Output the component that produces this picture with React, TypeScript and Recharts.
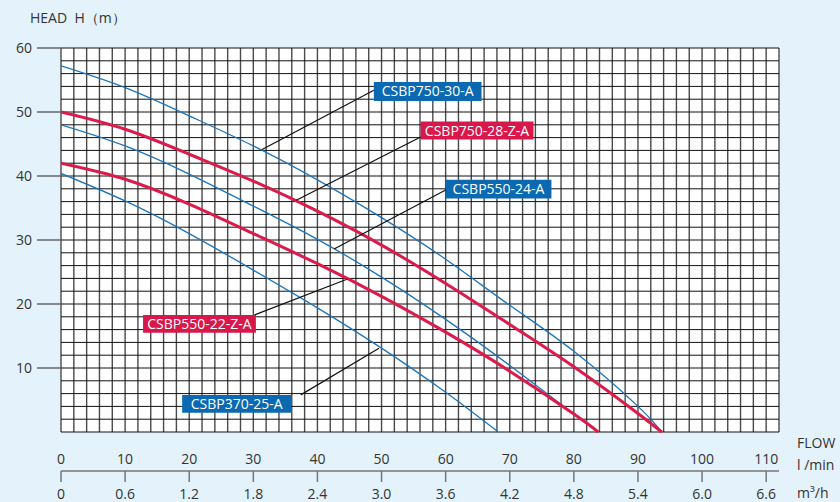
import React from 'react';
import {
  ComposedChart,
  Line,
  XAxis,
  YAxis,
  CartesianGrid,
  ReferenceArea,
  ReferenceLine,
} from 'recharts';

// flow (l/min) and head (m)
const flow750_30 = [0, 10, 20, 30, 40, 50, 60, 70, 80, 90, 93.7];
const head750_30 = [57.2, 53.8, 49.4, 44.7, 39.4, 33.5, 27.0, 19.8, 12.6, 4.0, 0];

const flow750_28 = [0, 10, 20, 30, 40, 50, 60, 70, 80, 90, 93.7];
const head750_28 = [50, 47.3, 43.4, 39.2, 34.5, 29.2, 23.2, 16.8, 10.2, 2.9, 0];

const flow550_24 = [0, 10, 20, 30, 40, 50, 60, 70, 80, 83.8];
const head550_24 = [48, 44.7, 40.3, 35.3, 30.1, 24.2, 17.6, 10.4, 2.8, 0];

const flow550_22 = [0, 10, 20, 30, 40, 50, 60, 70, 80, 83.8];
const head550_22 = [42, 39.5, 35.6, 31.0, 26.3, 21.2, 15.6, 9.5, 2.8, 0];

const flow370_25 = [0, 10, 20, 30, 40, 50, 60, 68.2];
const head370_25 = [40.4, 36.1, 31.0, 25.3, 19.4, 13.1, 6.2, 0];

const headTicks = [10, 20, 30, 40, 50, 60];
const flowTicks = [0, 10, 20, 30, 40, 50, 60, 70, 80, 90, 100, 110];
const m3hLabels = ['0', '0.6', '1.2', '1.8', '2.4', '3.0', '3.6', '4.2', '4.8', '5.4', '6.0', '6.6'];
const gridX = Array.from({ length: 57 }, (_, i) => i * 2);
const gridY = Array.from({ length: 31 }, (_, i) => i * 2);

const BLUE = '#1b75bc';
const RED = '#dc1a4b';
const BOX_BLUE = '#0a69b1';
const BOX_RED = '#d8174b';

const toPoints = (q: number[], h: number[]) => q.map((v, i) => ({ q: v, h: h[i] }));

const series = [
  { name: 'CSBP750-30-A', data: toPoints(flow750_30, head750_30), color: BLUE, width: 1.3 },
  { name: 'CSBP750-28-Z-A', data: toPoints(flow750_28, head750_28), color: RED, width: 3 },
  { name: 'CSBP550-24-A', data: toPoints(flow550_24, head550_24), color: BLUE, width: 1.3 },
  { name: 'CSBP550-22-Z-A', data: toPoints(flow550_22, head550_22), color: RED, width: 3 },
  { name: 'CSBP370-25-A', data: toPoints(flow370_25, head370_25), color: BLUE, width: 1.3 },
];

// callout boxes and leader lines, in chart units
const callouts = [
  { name: 'CSBP750-30-A', fill: BOX_BLUE, box: [48.8, 65.6, 51.7, 54.7], from: [31.3, 44.1], to: [48.8, 53.4] },
  { name: 'CSBP750-28-Z-A', fill: BOX_RED, box: [56.1, 73.7, 45.7, 48.5], from: [36.7, 36.2], to: [56.1, 46.1] },
  { name: 'CSBP550-24-A', fill: BOX_BLUE, box: [60.0, 76.5, 36.5, 39.4], from: [42.6, 28.6], to: [60.0, 37.8] },
  { name: 'CSBP550-22-Z-A', fill: BOX_RED, box: [12.8, 30.4, 15.5, 18.3], from: [44.7, 23.9], to: [30.2, 18.3] },
  { name: 'CSBP370-25-A', fill: BOX_BLUE, box: [18.9, 35.9, 3.0, 5.8], from: [49.6, 13.1], to: [37.4, 5.8] },
];

const FlowTick = (props: any) => {
  const { x, y, payload, index } = props;
  return (
    <g>
      <text x={x} y={y - 18} textAnchor="middle" fontSize={14} fill="#333">
        {payload.value}
      </text>
      <text x={x} y={y + 17} textAnchor="middle" fontSize={14} fill="#333">
        {m3hLabels[index]}
      </text>
    </g>
  );
};

const NoTick = () => <g />;

const overlay: React.CSSProperties = { position: 'absolute', fontSize: 14, color: '#333', lineHeight: '16px', whiteSpace: 'nowrap' };

export default function App() {
  return (
    <div style={{ position: 'relative', width: 840, height: 502, background: '#e3f2fb', fontFamily: '"Open Sans", sans-serif' }}>
      <style>{'body{margin:0}'}</style>
      <div style={{ ...overlay, left: 30, top: 10 }}>HEAD&nbsp;&nbsp;H（m）</div>
      <div style={{ ...overlay, left: 797, top: 435 }}>FLOW</div>
      <div style={{ ...overlay, left: 797, top: 457 }}>l /min</div>
      <div style={{ ...overlay, left: 797, top: 485 }}>m³/h</div>
      <ComposedChart width={840} height={502} margin={{ top: 48, right: 61, left: 0, bottom: 0 }}>
        <CartesianGrid
          xAxisId="a"
          yAxisId="h"
          fill="#ffffff"
          fillOpacity={1}
          horizontal={false}
          stroke="#4a4a4a"
          strokeWidth={1.4}
          verticalValues={gridX}
        />
        <CartesianGrid
          xAxisId="a"
          yAxisId="h"
          vertical={false}
          stroke="#111"
          strokeWidth={1}
          horizontalValues={gridY}
        />
        <XAxis
          xAxisId="b"
          type="number"
          dataKey="q"
          domain={[0, 112]}
          ticks={flowTicks}
          interval={0}
          height={31}
          tickSize={11}
          tickMargin={0}
          tick={<FlowTick />}
          tickLine={{ stroke: '#777', strokeWidth: 1.5 }}
          axisLine={{ stroke: '#777', strokeWidth: 1.5 }}
          allowDataOverflow
        />
        <XAxis
          xAxisId="a"
          type="number"
          dataKey="q"
          domain={[0, 112]}
          ticks={gridX}
          interval={0}
          height={39}
          tick={<NoTick />}
          tickLine={false}
          axisLine={false}
          allowDataOverflow
        />
        <YAxis
          yAxisId="h"
          type="number"
          domain={[0, 60]}
          ticks={headTicks}
          interval={0}
          width={61}
          tickSize={24}
          tickMargin={5}
          axisLine={false}
          tickLine={{ stroke: '#666', strokeWidth: 1.5 }}
          tick={{ fill: '#333', fontSize: 14 }}
        />
        {series.map((s) => (
          <Line
            key={s.name}
            xAxisId="a"
            yAxisId="h"
            data={s.data}
            dataKey="h"
            type="natural"
            stroke={s.color}
            strokeWidth={s.width}
            dot={false}
            isAnimationActive={false}
          />
        ))}
        {callouts.map((c) => (
          <ReferenceLine
            key={c.name + '-l'}
            xAxisId="a"
            yAxisId="h"
            segment={[
              { x: c.from[0], y: c.from[1] },
              { x: c.to[0], y: c.to[1] },
            ]}
            stroke="#111"
            strokeWidth={1.2}
          />
        ))}
        {callouts.map((c) => (
          <ReferenceArea
            key={c.name}
            xAxisId="a"
            yAxisId="h"
            x1={c.box[0]}
            x2={c.box[1]}
            y1={c.box[2]}
            y2={c.box[3]}
            fill={c.fill}
            fillOpacity={1}
            stroke="none"
            label={{ value: c.name, position: 'center', fill: '#ffffff', fontSize: 14 }}
          />
        ))}
      </ComposedChart>
    </div>
  );
}
